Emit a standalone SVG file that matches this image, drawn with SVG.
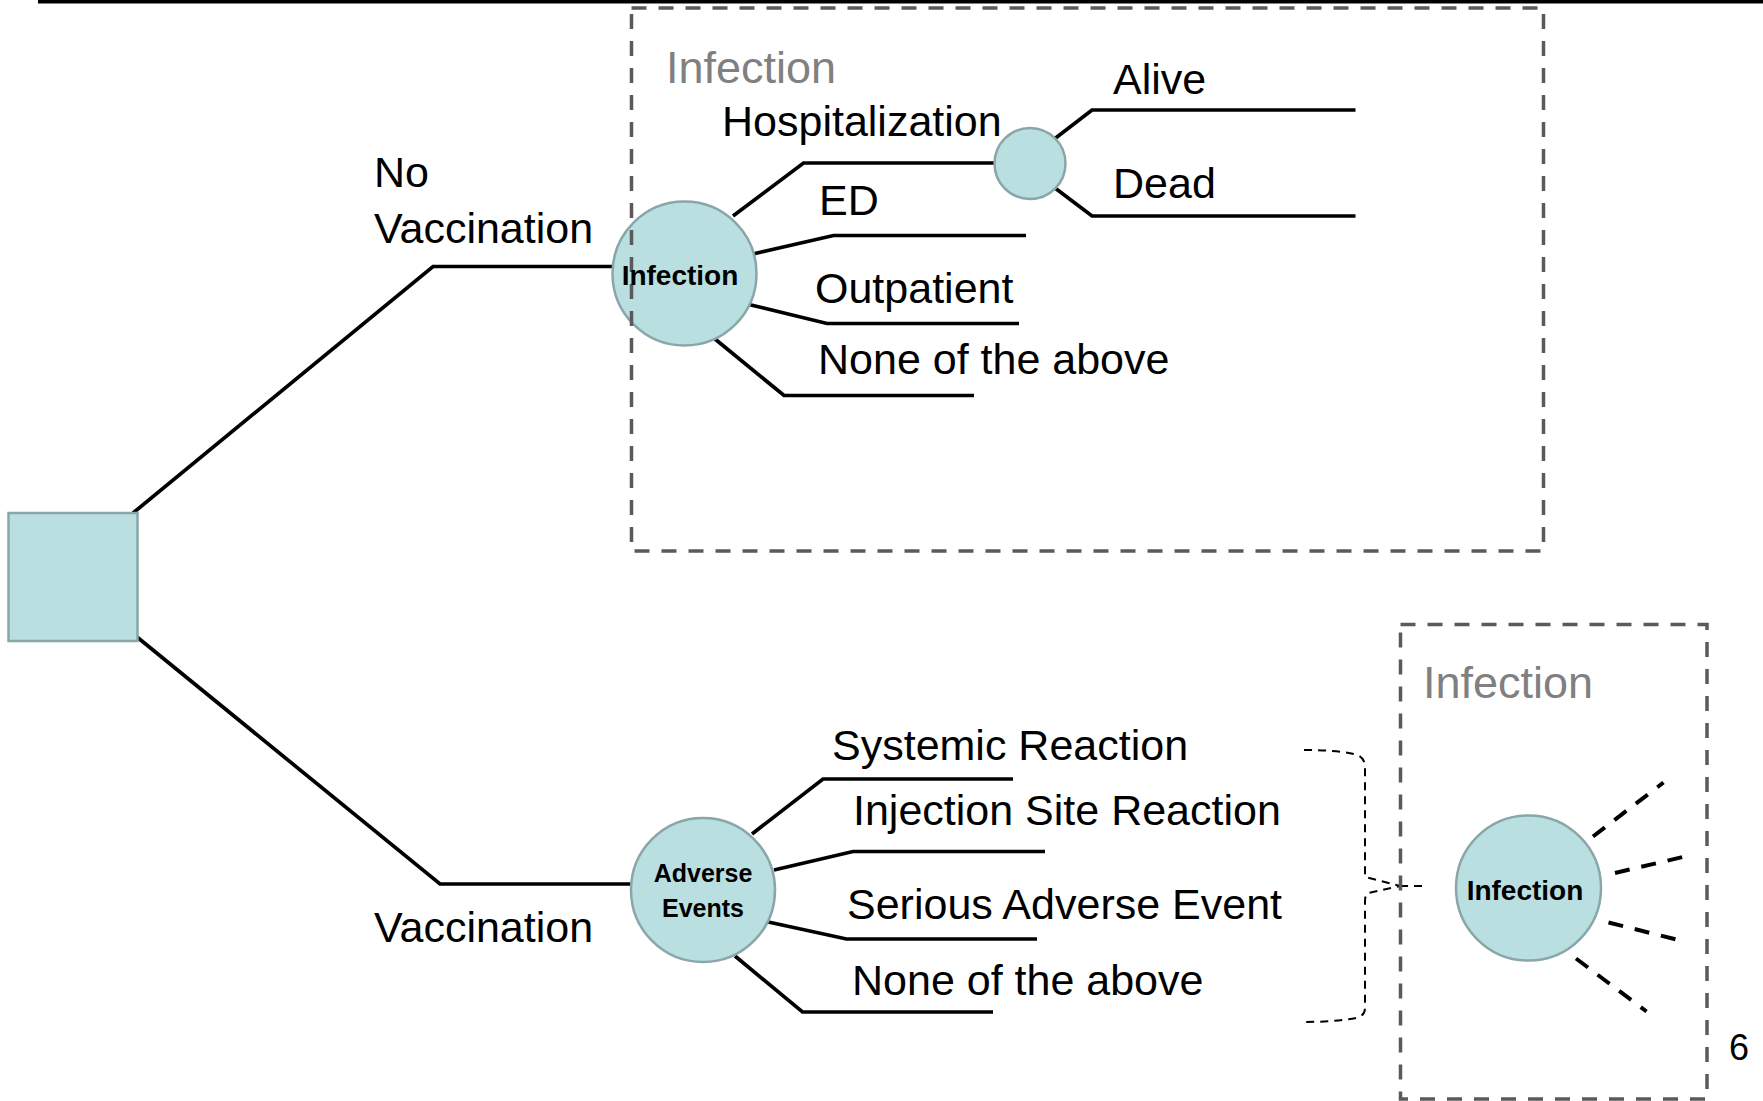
<svg xmlns="http://www.w3.org/2000/svg" width="1763" height="1101" viewBox="0 0 1763 1101">
<style>
.node{fill:#b9dfe1;stroke:#8aa6a9;stroke-width:2.5}
.conn{fill:none;stroke:#000;stroke-width:3.7;stroke-linejoin:miter}
.ray{fill:none;stroke:#000;stroke-width:4;stroke-dasharray:15 12}
.brace{fill:none;stroke:#000;stroke-width:2;stroke-dasharray:8 6}
.box{fill:none;stroke:#5a5a5a;stroke-width:3.5;stroke-dasharray:15 12}
.lbl{font-family:"Liberation Sans",Arial,sans-serif;font-size:43px;fill:#000}
.grey{font-family:"Liberation Sans",Arial,sans-serif;font-size:45px;fill:#808080}
.bold{font-family:"Liberation Sans",Arial,sans-serif;font-weight:bold;fill:#000;text-anchor:middle}
</style>
<rect x="38" y="0" width="1725" height="3.5" fill="#000"/>
<g id="connectors">
<polyline class="conn" points="133,513 433,266.5 612,266.5"/>
<polyline class="conn" points="137,637 440,884 631.5,884"/>
<polyline class="conn" points="733,216 803.5,163 994.5,163"/>
<polyline class="conn" points="753,254 833.5,235.5 1026,235.5"/>
<polyline class="conn" points="747,304 827,323.5 1019,323.5"/>
<polyline class="conn" points="715,339 784,395.5 974,395.5"/>
<polyline class="conn" points="1055,138.5 1092,110 1355.5,110"/>
<polyline class="conn" points="1055,188 1092,216 1355.5,216"/>
<polyline class="conn" points="752,834 823,779 1013,779"/>
<polyline class="conn" points="774,870 853,851.5 1045,851.5"/>
<polyline class="conn" points="766,921.5 846.5,939 1037,939"/>
<polyline class="conn" points="735,956 802.5,1012 993,1012"/>
<line class="ray" x1="1593" y1="836.5" x2="1663.5" y2="782.5"/>
<line class="ray" x1="1615" y1="873" x2="1685" y2="856.5"/>
<line class="ray" x1="1608.5" y1="922.5" x2="1678.5" y2="940"/>
<line class="ray" x1="1576" y1="958.5" x2="1646.5" y2="1011.5"/>
<path class="brace" d="M1304,750 C1330,750 1348,752 1357,755 Q1365,758 1365,767 L1365,877 L1400,886 L1368,893 Q1365,895 1365,901 L1365,1008 Q1365,1016 1356,1018 C1340,1021 1320,1022 1304,1022"/>
<line class="brace" x1="1400" y1="886" x2="1428" y2="886"/>
</g>
<g id="decision">
<rect class="node" x="8.5" y="513" width="129" height="128"/>
</g>
<g id="infection-chance">
<circle class="node" cx="684.5" cy="273.5" r="72"/>
</g>
<g id="hosp-chance">
<circle class="node" cx="1030" cy="163.5" r="35.5"/>
</g>
<g id="adverse-chance">
<circle class="node" cx="703" cy="890" r="72"/>
<text class="bold" x="703" y="882" font-size="25">Adverse</text>
<text class="bold" x="703" y="917" font-size="25">Events</text>
</g>
<g id="infection-chance-2">
<circle class="node" cx="1528.5" cy="888" r="72.5"/>
<text class="bold" x="1525" y="900" font-size="28">Infection</text>
</g>
<g id="infection-box">
<rect class="box" x="631.5" y="8" width="912" height="543"/>
<text class="grey" x="666" y="83">Infection</text>
</g>
<g id="infection-box-2">
<rect class="box" x="1400.5" y="624.5" width="306.5" height="474.5"/>
<text class="grey" x="1423" y="698">Infection</text>
</g>
<text class="bold" x="680" y="285" font-size="28">Infection</text>
<g id="labels">
<text class="lbl" x="374" y="187">No</text>
<text class="lbl" x="374" y="243">Vaccination</text>
<text class="lbl" x="722" y="136">Hospitalization</text>
<text class="lbl" x="1113" y="94">Alive</text>
<text class="lbl" x="1113" y="198">Dead</text>
<text class="lbl" x="819" y="215">ED</text>
<text class="lbl" x="815" y="303">Outpatient</text>
<text class="lbl" x="818" y="374">None of the above</text>
<text class="lbl" x="374" y="942">Vaccination</text>
<text class="lbl" x="832" y="760">Systemic Reaction</text>
<text class="lbl" x="853" y="825">Injection Site Reaction</text>
<text class="lbl" x="847" y="919">Serious Adverse Event</text>
<text class="lbl" x="852" y="995">None of the above</text>
<text x="1729" y="1060" font-family="Liberation Sans, Arial, sans-serif" font-size="36" fill="#000">6</text>
</g>
</svg>
